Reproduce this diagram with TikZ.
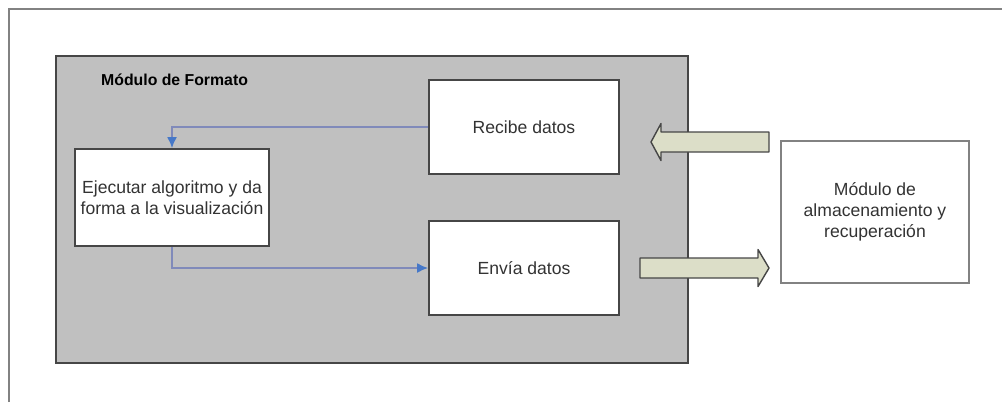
\documentclass[tikz,border=0pt]{standalone}
\usepackage{fontspec}
\setmainfont{Liberation Sans}
\usepackage{tikz}
\usetikzlibrary{arrows.meta, positioning}

\definecolor{modgray}{RGB}{192,192,192}
\definecolor{edgegray}{RGB}{70,70,70}
\definecolor{framegray}{RGB}{130,130,130}
\definecolor{linkblue}{RGB}{128,138,186}
\definecolor{tipblue}{RGB}{70,120,200}
\definecolor{bigarrow}{RGB}{220,222,200}

\begin{document}
\begin{tikzpicture}[
  font=\fontsize{10}{12}\selectfont,
  module/.style={draw=edgegray, line width=1pt, fill=modgray, minimum width=12.64cm, minimum height=6.14cm},
  block/.style={draw=edgegray, line width=1pt, fill=white, align=center, minimum width=3.8cm, minimum height=1.88cm, text=black!80},
  store/.style={draw=framegray, line width=1pt, fill=white, align=center, minimum width=3.76cm, minimum height=2.84cm, text=black!80},
  bigarr/.style={draw=edgegray, line width=0.8pt, fill=bigarrow, line join=round},
  arr/.style={-{Latex[length=2.2mm, width=2mm, color=tipblue]}, draw=linkblue, line width=1pt}
]
\useasboundingbox (0,0) rectangle (20.04,-8.04);
\draw[framegray, line width=0.8pt] (0.18,-8.04) -- (0.18,-0.18) -- (20.04,-0.18);

\node[module] (fmt) at (7.44,-4.19) {};
\node[font=\fontsize{9}{11}\selectfont\bfseries, anchor=west] (title) at (1.9,-1.6) {Módulo de Formato};
\node[block] (rec) at (10.48,-2.54) {Recibe datos};
\node[block] (env) at (10.48,-5.36) {Envía datos};
\node[block, minimum width=3.76cm, minimum height=1.94cm] (eje) at (3.44,-3.95) {Ejecutar algoritmo y da\\forma a la visualización};
\node[store] (alm) at (17.5,-4.24) {Módulo de\\almacenamiento y\\recuperación};

% block arrows between the modules
\coordinate (intip) at (13.02,-2.84);
\coordinate (outtip) at (15.38,-5.36);
\draw[bigarr] (intip) -- ++(0.2,0.37) -- ++(0,-0.17) -- ++(2.16,0) -- ++(0,-0.4)
  -- ++(-2.16,0) -- ++(0,-0.17) -- cycle;
\draw[bigarr] (outtip) -- ++(-0.22,0.37) -- ++(0,-0.17) -- ++(-2.36,0) -- ++(0,-0.4)
  -- ++(2.36,0) -- ++(0,-0.17) -- cycle;

\draw[arr] (rec.west) -| (eje.north);
\draw[arr] (eje.south) |- (env.west);
\end{tikzpicture}
\end{document}
